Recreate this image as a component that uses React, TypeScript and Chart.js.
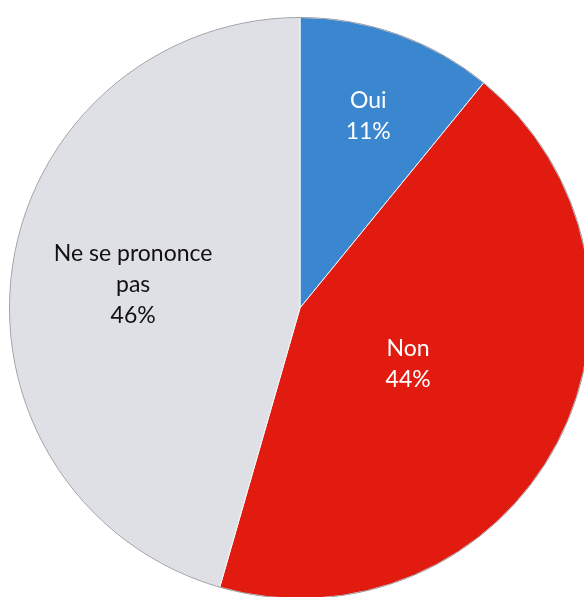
import React, { useEffect, useRef } from "react";
import { Chart, registerables } from "chart.js";

Chart.register(...registerables);

const categories = ["Oui", "Non", "Ne se prononce pas"];
const values = [11, 44, 46];
const labelLines = [["Oui", "11%"], ["Non", "44%"], ["Ne se prononce", "pas", "46%"]];
const colors = ["#3a86cf", "#e11b10", "#dfe0e6"];
const textColors = ["#ffffff", "#ffffff", "#111111"];
const labelRadius = [0.7, 0.42, 0.58];

const labelPlugin = {
  id: "sliceLabels",
  afterDatasetsDraw(chart: any) {
    const ctx = chart.ctx;
    const meta = chart.getDatasetMeta(0);
    ctx.save();
    ctx.font = "23px Lato, 'Open Sans', sans-serif";
    ctx.textAlign = "center";
    ctx.textBaseline = "middle";
    meta.data.forEach((arc: any, i: number) => {
      const { x, y, startAngle, endAngle, outerRadius } = arc.getProps(
        ["x", "y", "startAngle", "endAngle", "outerRadius"],
        true
      );
      const mid = (startAngle + endAngle) / 2;
      const r = outerRadius * labelRadius[i];
      const cx = x + Math.cos(mid) * r;
      const cy = y + Math.sin(mid) * r;
      const lines = labelLines[i];
      const lh = 31;
      ctx.fillStyle = textColors[i];
      lines.forEach((ln, k) => {
        ctx.fillText(ln, cx, cy + (k - (lines.length - 1) / 2) * lh);
      });
    });
    ctx.restore();
  },
};

const outlinePlugin = {
  id: "outline",
  afterDatasetsDraw(chart: any) {
    const arc: any = chart.getDatasetMeta(0).data[0];
    if (!arc) return;
    const { x, y, outerRadius } = arc.getProps(["x", "y", "outerRadius"], true);
    const ctx = chart.ctx;
    ctx.save();
    ctx.strokeStyle = "rgba(60,60,70,0.45)";
    ctx.lineWidth = 1;
    ctx.beginPath();
    ctx.arc(x, y, outerRadius, 0, Math.PI * 2);
    ctx.stroke();
    ctx.restore();
  },
};

export default function App() {
  const ref = useRef<HTMLCanvasElement | null>(null);
  useEffect(() => {
    if (!ref.current) return;
    const chart = new Chart(ref.current, {
      type: "pie",
      data: {
        labels: categories,
        datasets: [
          {
            data: values,
            backgroundColor: colors,
            borderColor: "#f4f6f8",
            borderWidth: 1,
          },
        ],
      },
      options: {
        animation: false,
        responsive: false,
        layout: { padding: 9 },
        plugins: {
          legend: { display: false },
          tooltip: { enabled: false },
        },
      },
      plugins: [outlinePlugin, labelPlugin],
    });
    return () => chart.destroy();
  }, []);
  return (
    <div
      style={{
        position: "fixed",
        left: 0,
        top: 0,
        width: 584,
        height: 597,
        overflow: "hidden",
        background: "#ffffff",
      }}
    >
      <canvas
        ref={ref}
        width={600}
        height={616}
        style={{ position: "absolute", left: 0, top: 0, width: 600, height: 616 }}
      />
    </div>
  );
}
